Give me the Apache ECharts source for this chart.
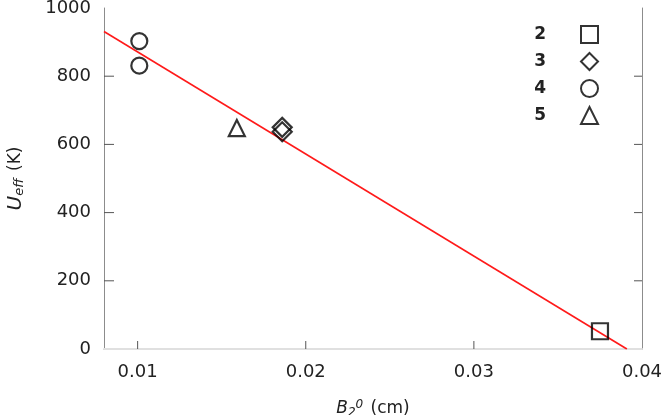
<!DOCTYPE html>
<html>
<head>
<meta charset="utf-8">
<script src="https://cdn.jsdelivr.net/npm/echarts@6/dist/echarts.min.js"></script>
<style>
html, body { margin: 0; padding: 0; background: #fff; }
#chart { width: 665px; height: 415px; }
</style>
</head>
<body>
<div id="chart"></div>
<script>
// data: [B2^0 (cm), Ueff (K)]
var compounds = ["2", "3", "4", "5"];
var pts2 = [[0.0375, 52]];
var pts3 = [[0.0186, 650], [0.0186, 637]];
var pts4 = [[0.0101, 903], [0.0101, 831]];
var pts5 = [[0.0159, 648]];
var fitLine = [[0.008, 931], [0.0391, 0]];
var xTicks = [0.01, 0.02, 0.03, 0.04];
var yTicks = [0, 200, 400, 600, 800, 1000];

var font = "DejaVu Sans";
var axisGray = "#8c8c8c";
var tickGray = "#555";
var xMin = 0.008, xMax = 0.04;

var myChart = echarts.init(document.getElementById("chart"), null, { renderer: "canvas" });

// open black markers
function markerSeries(name, symbol, size, data) {
    return {
        name: name,
        type: "scatter",
        symbol: symbol,
        symbolSize: size,
        data: data,
        z: 3,
        itemStyle: { color: "rgba(255,255,255,0)", borderColor: "#000", borderWidth: 2.2 }
    };
}

// inner ticks, placed through the axis scales
// each item: [x, y, dx, dy]
function tickSeries() {
    var items = [];
    xTicks.slice(0, 3).forEach(function(v) { items.push([v, 0, 0, -8]); });
    yTicks.slice(1, 5).forEach(function(v) {
        items.push([xMin, v, 10, 0]);
        items.push([xMax, v, -8, 0]);
    });
    return {
        type: "custom",
        silent: true,
        z: 1,
        data: items,
        renderItem: function(params, api) {
            var p = api.coord([api.value(0), api.value(1)]);
            return {
                type: "line",
                shape: { x1: p[0], y1: p[1], x2: p[0] + api.value(2), y2: p[1] + api.value(3) },
                style: { stroke: tickGray, lineWidth: 1 }
            };
        }
    };
}

var option = {
    animation: false,
    grid: { left: 104, right: 23, top: 8, bottom: 66, outerBoundsMode: "none", containLabel: false },
    legend: {
        orient: "vertical",
        right: 61,
        top: 20,
        align: "right",
        itemWidth: 17,
        itemHeight: 17,
        itemGap: 8,
        data: compounds,
        textStyle: {
            fontFamily: font, fontSize: 17, fontWeight: "bold", color: "#222",
            padding: [0, 30, 0, 0]
        }
    },
    xAxis: [{
        type: "value",
        min: xMin,
        max: xMax,
        name: "{b|B}{s|2}{p|0} (cm)",
        nameLocation: "middle",
        nameGap: 50,
        nameTextStyle: {
            fontFamily: font, fontSize: 17, color: "#222",
            rich: {
                b: { fontFamily: font, fontSize: 17, fontStyle: "italic", color: "#222" },
                s: { fontFamily: font, fontSize: 12, fontStyle: "italic", color: "#222", padding: [8, 0, 0, 0] },
                p: { fontFamily: font, fontSize: 12, fontStyle: "italic", color: "#222", padding: [0, 2, 8, 0] }
            }
        },
        splitLine: { show: false },
        axisLine: { onZero: false, lineStyle: { color: axisGray, width: 1 } },
        axisTick: { show: false },
        axisLabel: {
            margin: 14, fontFamily: font, fontSize: 18, color: "#222",
            customValues: xTicks
        }
    }, {
        type: "value",
        position: "top",
        min: xMin,
        max: xMax,
        axisLine: { show: true, lineStyle: { color: "#e0e0e0", width: 2 } },
        axisTick: { show: false },
        axisLabel: { show: false },
        splitLine: { show: false }
    }],
    yAxis: [{
        type: "value",
        min: 0,
        max: 1000,
        interval: 200,
        name: "{u|U}{e|eff} (K)",
        nameLocation: "middle",
        nameGap: 78,
        nameRotate: 90,
        nameTextStyle: {
            fontFamily: font, fontSize: 17, color: "#222",
            rich: {
                u: { fontFamily: font, fontSize: 20, fontStyle: "italic", color: "#222" },
                e: { fontFamily: font, fontSize: 13, fontStyle: "italic", color: "#222", padding: [8, 2, 0, 0] }
            }
        },
        splitLine: { show: false },
        axisLine: { show: true, onZero: false, lineStyle: { color: axisGray, width: 1 } },
        axisTick: { show: false },
        axisLabel: {
            margin: 13, fontFamily: font, fontSize: 18, color: "#222",
            formatter: function(v) { return String(v); }
        }
    }, {
        type: "value",
        position: "right",
        min: 0,
        max: 1000,
        interval: 200,
        splitLine: { show: false },
        axisLine: { show: true, lineStyle: { color: axisGray, width: 1 } },
        axisTick: { show: false },
        axisLabel: { show: false }
    }],
    series: [
        tickSeries(),
        {
            name: "fit",
            type: "line",
            data: fitLine,
            symbol: "none",
            z: 2,
            lineStyle: { color: "#ff1a1a", width: 1.6 }
        },
        markerSeries("2", "rect", 16, pts2),
        markerSeries("3", "diamond", 19, pts3),
        markerSeries("4", "circle", 16, pts4),
        markerSeries("5", "triangle", 16, pts5)
    ]
};
myChart.setOption(option);
</script>
</body>
</html>
